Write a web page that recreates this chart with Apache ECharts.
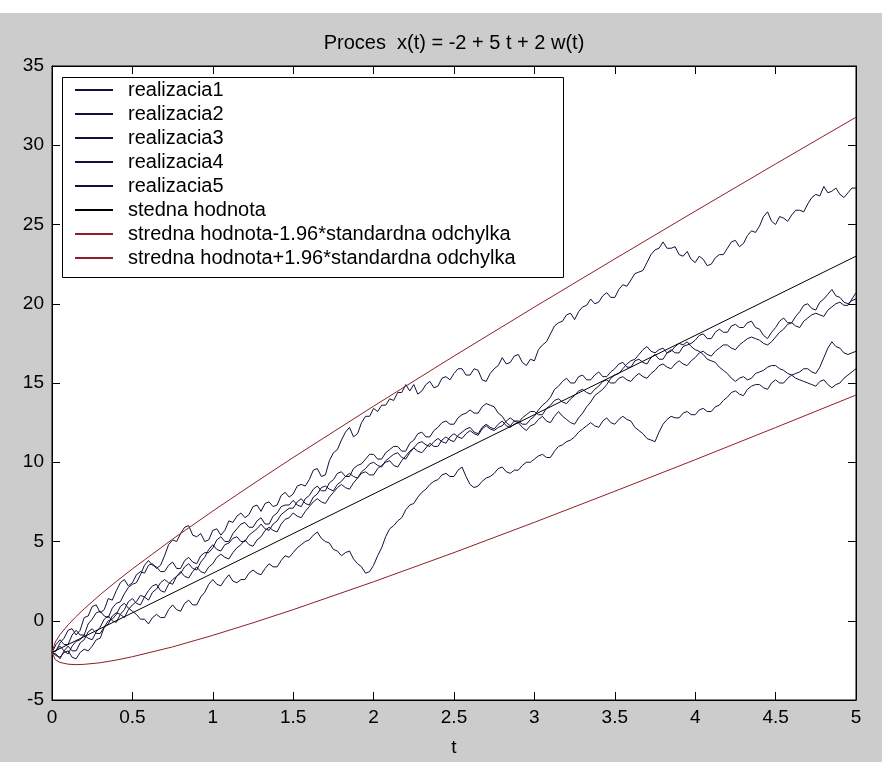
<!DOCTYPE html>
<html>
<head>
<meta charset="utf-8">
<title>Proces x(t)</title>
<script src="https://cdn.jsdelivr.net/npm/echarts@6/dist/echarts.min.js"></script>
<style>
  html, body { margin: 0; padding: 0; background: #fff; }
  #chart { width: 882px; height: 762px; }
</style>
</head>
<body>
<div id="chart"></div>
<script>
// casova os pre realizacie (krok 0.025)
var tWalk = [
  0,0.025,0.05,0.075,0.1,0.125,0.15,0.175,0.2,0.225,0.25,0.275,0.3,0.325,0.35,0.375,0.4,0.425,0.45,0.475,
  0.5,0.525,0.55,0.575,0.6,0.625,0.65,0.675,0.7,0.725,0.75,0.775,0.8,0.825,0.85,0.875,0.9,0.925,0.95,0.975,
  1,1.025,1.05,1.075,1.1,1.125,1.15,1.175,1.2,1.225,1.25,1.275,1.3,1.325,1.35,1.375,1.4,1.425,1.45,1.475,
  1.5,1.525,1.55,1.575,1.6,1.625,1.65,1.675,1.7,1.725,1.75,1.775,1.8,1.825,1.85,1.875,1.9,1.925,1.95,1.975,
  2,2.025,2.05,2.075,2.1,2.125,2.15,2.175,2.2,2.225,2.25,2.275,2.3,2.325,2.35,2.375,2.4,2.425,2.45,2.475,
  2.5,2.525,2.55,2.575,2.6,2.625,2.65,2.675,2.7,2.725,2.75,2.775,2.8,2.825,2.85,2.875,2.9,2.925,2.95,2.975,
  3,3.025,3.05,3.075,3.1,3.125,3.15,3.175,3.2,3.225,3.25,3.275,3.3,3.325,3.35,3.375,3.4,3.425,3.45,3.475,
  3.5,3.525,3.55,3.575,3.6,3.625,3.65,3.675,3.7,3.725,3.75,3.775,3.8,3.825,3.85,3.875,3.9,3.925,3.95,3.975,
  4,4.025,4.05,4.075,4.1,4.125,4.15,4.175,4.2,4.225,4.25,4.275,4.3,4.325,4.35,4.375,4.4,4.425,4.45,4.475,
  4.5,4.525,4.55,4.575,4.6,4.625,4.65,4.675,4.7,4.725,4.75,4.775,4.8,4.825,4.85,4.875,4.9,4.925,4.95,4.975,
  5];

var realizacia1 = [
  -2.0,-1.9,-1.4,-1.1,-0.6,-0.5,-0.9,-0.6,0.2,0.3,0.9,1.0,0.5,0.7,1.4,1.3,1.9,2.4,2.6,2.2,
  2.4,2.9,3.1,3.0,3.5,3.6,3.3,3.5,4.1,4.8,5.1,5.0,5.5,5.9,6.0,5.4,5.3,5.5,5.0,5.1,
  5.7,5.8,5.4,5.7,6.3,6.2,6.6,6.8,6.5,6.7,7.2,7.3,6.9,7.4,7.5,7.2,7.3,7.9,8.1,7.8,
  8.0,8.5,8.6,8.5,8.9,9.5,9.6,9.1,9.2,10.1,10.6,10.8,11.4,11.9,12.2,11.6,11.8,12.5,12.9,12.9,
  13.4,13.2,13.6,13.6,14.0,13.9,14.4,14.4,14.9,14.5,14.9,14.3,14.5,14.9,15.1,14.7,14.8,15.3,15.4,15.2,
  15.6,15.9,15.9,15.5,15.5,15.9,15.8,15.2,15.1,15.6,15.9,16.1,16.6,16.2,16.3,16.7,16.8,16.3,16.1,16.5,
  16.4,17.1,17.4,17.6,18.1,18.6,18.8,18.9,19.3,19.4,19.0,19.5,19.8,19.9,20.3,20.0,20.1,20.5,20.7,20.4,
  20.4,20.9,21.2,21.1,21.5,21.9,22.0,22.1,22.6,23.1,23.4,23.5,23.9,23.5,23.5,23.6,23.1,23.0,23.3,22.8,
  22.6,23.0,22.8,22.4,22.5,22.9,23.1,23.1,23.5,23.9,24.0,23.6,23.8,24.3,24.6,24.5,24.9,25.5,25.8,25.2,
  25.0,25.5,25.4,25.2,25.6,25.9,25.9,25.8,26.3,26.7,26.9,26.8,27.4,27.0,27.1,27.3,26.9,26.7,27.0,27.3,
  27.3];

var realizacia2 = [
  -2.0,-1.5,-1.2,-1.5,-1.5,-0.9,-0.6,-0.9,-0.9,-0.2,0.1,0.5,0.6,0.3,0.2,0.8,1.1,1.2,1.7,2.1,
  2.3,2.4,2.9,3.5,3.8,3.5,3.4,3.1,3.1,3.5,3.7,3.3,3.3,3.8,4.0,3.7,3.6,4.1,4.3,4.3,
  4.6,5.1,5.3,5.0,5.0,5.5,5.8,6.1,6.2,5.9,5.9,6.3,6.5,6.1,6.1,6.6,6.8,7.2,7.3,7.3,
  7.6,7.3,7.2,7.7,7.9,8.3,8.5,8.2,8.2,8.7,8.9,9.3,9.4,9.1,9.1,9.6,9.8,9.9,10.2,10.5,
  10.5,10.2,10.2,10.6,10.8,11.0,11.0,10.7,10.7,11.2,11.4,11.8,11.9,11.6,11.6,12.0,12.2,12.5,12.6,12.4,
  12.4,12.8,13.0,13.1,13.3,13.1,13.1,13.5,13.7,13.6,13.5,13.1,12.9,12.5,12.3,12.6,12.6,12.4,12.4,12.7,
  12.9,13.3,13.6,13.8,14.1,14.6,14.8,15.1,15.3,15.0,15.0,15.4,15.5,15.2,15.2,15.5,15.7,15.4,15.4,15.7,
  15.9,16.2,16.3,16.0,16.0,16.4,16.5,16.3,16.2,16.6,16.8,16.5,16.5,16.9,17.1,16.9,16.9,17.3,17.4,17.5,
  17.7,18.0,18.1,17.8,17.8,18.2,18.4,18.2,18.2,18.6,18.7,18.5,18.5,18.8,18.9,18.5,18.4,18.0,17.8,18.2,
  18.5,18.9,19.1,18.8,18.8,19.2,19.5,19.9,20.0,19.7,19.6,20.1,20.3,20.6,20.9,20.5,20.4,20.1,20.0,20.2,
  20.3];

var realizacia3 = [
  -2.0,-2.1,-2.4,-1.9,-1.6,-1.9,-1.9,-1.4,-1.2,-0.7,-0.5,-0.8,-0.8,-0.4,-0.2,0.3,0.5,0.4,0.2,0.7,
  1.0,1.2,1.6,1.5,1.3,1.8,2.0,2.4,2.6,2.4,2.3,2.8,3.0,3.4,3.6,3.3,3.2,3.7,4.0,4.5,
  4.8,4.5,4.4,4.8,4.9,5.2,5.3,5.0,5.0,5.4,5.6,5.8,6.1,5.8,5.7,6.1,6.3,6.7,6.9,7.1,
  7.1,7.5,7.7,7.4,7.3,7.8,8.0,8.4,8.5,8.3,8.2,8.6,8.8,9.1,9.3,9.1,9.0,9.4,9.6,9.9,
  10.0,9.8,9.7,10.1,10.3,10.5,10.6,10.3,10.2,10.6,10.9,11.2,11.3,11.1,11.0,11.3,11.5,11.3,11.2,11.6,
  11.8,11.6,11.5,11.8,12.0,11.8,11.7,12.1,12.3,12.1,12.0,12.2,12.3,12.6,12.8,12.6,12.5,12.8,13.0,13.2,
  13.2,13.0,13.0,13.4,13.6,13.9,14.0,13.8,13.7,14.0,14.2,14.5,14.6,14.4,14.3,14.6,14.8,15.1,15.2,15.0,
  15.0,15.3,15.4,15.2,15.1,15.4,15.6,15.4,15.3,15.6,15.8,16.1,16.2,16.0,15.9,16.2,16.4,16.2,16.1,16.4,
  16.6,16.9,17.0,16.8,16.7,17.0,17.2,17.4,17.4,17.2,17.1,17.4,17.6,17.8,17.9,17.8,17.7,17.5,17.4,17.6,
  17.9,18.2,18.4,18.7,18.8,18.6,18.5,18.9,19.1,19.3,19.4,19.3,19.2,19.6,19.8,20.0,20.1,19.9,19.9,20.3,
  20.7];

var realizacia4 = [
  -2.0,-1.9,-1.6,-1.9,-2.1,-1.6,-1.3,-1.2,-0.9,-1.1,-1.2,-0.7,-0.4,0.1,0.3,0.0,-0.1,0.4,0.7,1.2,
  1.4,1.1,1.0,1.5,1.9,2.2,2.3,1.9,1.8,2.3,2.6,2.8,3.1,2.8,2.7,3.1,3.4,3.1,3.0,3.4,
  3.6,4.0,4.2,4.0,3.9,4.3,4.6,4.8,5.1,4.8,4.7,5.1,5.3,5.7,5.9,5.7,5.6,6.1,6.4,6.5,
  6.8,6.6,6.5,6.9,7.2,7.5,7.7,7.5,7.4,7.8,8.1,8.4,8.6,8.4,8.3,8.7,9.0,9.3,9.4,9.2,
  9.2,9.6,9.8,10.0,10.1,9.8,9.7,10.1,10.4,10.7,10.9,10.7,10.6,10.9,11.2,11.0,11.0,11.4,11.6,11.4,
  11.3,11.7,11.9,12.1,12.2,11.9,11.8,12.2,12.4,12.2,12.1,12.4,12.6,12.3,12.2,12.4,12.5,12.2,12.0,12.3,
  12.4,12.7,12.9,12.6,12.5,12.9,13.2,12.9,12.7,12.5,12.4,12.8,13.1,13.5,13.8,14.2,14.4,14.6,14.9,15.3,
  15.5,15.6,15.9,16.2,16.4,16.5,16.8,17.1,17.3,17.0,16.9,17.1,17.2,16.9,17.0,17.3,17.5,17.4,17.6,17.3,
  17.1,17.0,16.8,16.5,16.4,16.3,16.0,15.8,15.6,15.3,15.1,15.3,15.4,15.2,15.3,15.6,15.7,15.8,16.0,16.1,
  16.1,15.9,15.8,15.6,15.5,15.6,15.7,15.9,15.9,15.7,15.6,16.0,16.6,17.2,17.6,17.3,17.2,16.9,16.8,16.9,
  17.0];

var realizacia5 = [
  -2.0,-2.2,-2.3,-2.0,-1.9,-2.3,-2.4,-2.0,-1.8,-1.9,-1.6,-1.2,-1.1,-0.4,0.0,0.1,0.4,0.9,1.1,0.8,
  0.6,0.4,0.1,0.1,-0.2,0.2,0.4,0.2,0.2,0.7,1.0,0.7,0.6,1.1,1.3,1.0,1.0,1.5,1.8,2.3,
  2.6,2.3,2.2,2.6,2.9,2.5,2.4,2.6,2.6,3.0,3.2,3.0,2.9,3.3,3.6,3.4,3.4,3.8,4.1,4.0,
  4.3,4.6,4.8,5.0,5.1,5.4,5.6,5.2,5.0,4.9,4.5,4.4,4.1,4.3,4.4,3.9,3.6,3.4,3.0,3.1,
  3.5,4.1,4.6,5.3,5.8,6.0,6.3,6.5,7.0,7.3,7.4,7.8,8.1,8.3,8.6,8.8,8.9,9.2,9.3,9.1,
  9.1,9.5,9.7,9.1,8.6,8.4,8.5,8.8,9.0,9.1,9.3,9.6,9.7,9.4,9.3,9.5,9.5,9.8,10.0,10.0,
  10.2,10.4,10.5,10.3,10.3,10.7,11.0,11.1,11.3,11.4,11.6,11.9,12.1,12.3,12.5,12.3,12.2,12.6,12.8,12.5,
  12.4,12.7,12.9,12.7,12.6,12.2,12.0,11.8,11.5,11.4,11.3,11.9,12.4,12.7,12.9,12.8,12.8,13.1,13.2,13.0,
  13.0,13.3,13.4,13.2,13.2,13.5,13.6,13.9,14.1,14.4,14.5,14.3,14.2,14.6,14.8,14.9,14.9,14.7,14.6,15.0,
  15.2,15.0,15.0,15.3,15.5,15.3,15.2,15.1,15.0,14.9,14.8,15.1,15.2,14.9,14.7,14.9,15.0,15.3,15.5,15.7,
  15.9];

// stredna hodnota a pasmo +-1.96*sigma
var tMean = [0, 5];
var strednaHodnota = [-2, 23];
var tBand = [0,0.02,0.05,0.1,0.15,0.2,0.3,0.4,0.5,0.75,1,1.25,1.5,2,2.5,3,3.5,4,4.5,5];
var dolnaHranica = [-2,-2.45,-2.63,-2.74,-2.77,-2.75,-2.65,-2.48,-2.27,-1.65,-0.92,-0.13,0.7,2.46,4.3,6.21,8.17,10.16,12.19,14.24];
var hornaHranica = [-2,-1.35,-0.87,-0.26,0.27,0.75,1.65,2.48,3.27,5.15,6.92,8.63,10.3,13.54,16.7,19.79,22.83,25.84,28.82,31.77];

var xTicks = { min: 0, max: 5, interval: 0.5 };
var yTicks = { min: -5, max: 35, interval: 5 };

var FONT = 'Liberation Sans, Arial, Helvetica, sans-serif';

function pary(xs, ys) {
    var out = [];
    for (var i = 0; i < xs.length; i++) out.push([xs[i], ys[i]]);
    return out;
}

function ciara(name, xs, ys, color) {
    return {
        name: name,
        type: 'line',
        data: pary(xs, ys),
        showSymbol: false,
        symbol: 'none',
        lineStyle: { color: color, width: 1 },
        itemStyle: { color: color },
        emphasis: { disabled: true },
        z: 2
    };
}

var REAL = '#10103a', MEAN = '#000000', BAND = '#8e1f26';

// osi so zarazkami dovnutra (aj na hornej a pravej strane)
var os = function (typ, pos, labels) {
    var t = typ === 'x' ? xTicks : yTicks;
    return {
        type: 'value', position: pos, min: t.min, max: t.max, interval: t.interval,
        axisLine: { show: true, onZero: false, lineStyle: { color: '#000', width: 1 } },
        axisTick: { show: true, inside: true, length: 8, lineStyle: { color: '#000' } },
        axisLabel: { show: labels, color: '#000', fontSize: 19, fontFamily: FONT, margin: 8 },
        splitLine: { show: false }
    };
};

var x0 = os('x', 'bottom', true);
x0.name = 't';
x0.nameLocation = 'middle';
x0.nameGap = 38;
x0.nameTextStyle = { color: '#000', fontSize: 19, fontFamily: FONT };

var chart = echarts.init(document.getElementById('chart'));
chart.setOption({
    animation: false,
    backgroundColor: '#cccccc',
    grid: {
        show: true, left: 52, right: 26, top: 66, bottom: 59,
        backgroundColor: '#ffffff', borderColor: '#000', borderWidth: 1
    },
    xAxis: [x0, os('x', 'top', false)],
    yAxis: [os('y', 'left', true), os('y', 'right', false)],
    legend: {
        orient: 'vertical', left: 62, top: 77,
        padding: [3, 0, 0, 13],
        itemWidth: 38, itemHeight: 2, itemGap: 4,
        icon: 'rect',
        selectedMode: false,
        z: 200,
        textStyle: { color: '#000', fontSize: 20, lineHeight: 20, fontFamily: FONT, padding: [0, 0, 0, 10] },
        data: ['realizacia1', 'realizacia2', 'realizacia3', 'realizacia4', 'realizacia5',
               'stedna hodnota',
               'stredna hodnota-1.96*standardna odchylka',
               'stredna hodnota+1.96*standardna odchylka']
    },
    graphic: [
        { type: 'rect', shape: { x: 0, y: 0, width: 882, height: 13 }, style: { fill: '#fff' }, z: 1 },
        { type: 'text', x: 454, y: 43, z: 1,
          style: { text: 'Proces  x(t) = -2 + 5 t + 2 w(t)', fill: '#000', font: '20px ' + FONT,
                   textAlign: 'center', textVerticalAlign: 'middle' } },
        { type: 'rect', shape: { x: 62.5, y: 77.5, width: 501, height: 200 },
          style: { fill: '#fff', stroke: '#000', lineWidth: 1 }, z: 100 }
    ],
    series: [
        ciara('realizacia1', tWalk, realizacia1, REAL),
        ciara('realizacia2', tWalk, realizacia2, REAL),
        ciara('realizacia3', tWalk, realizacia3, REAL),
        ciara('realizacia4', tWalk, realizacia4, REAL),
        ciara('realizacia5', tWalk, realizacia5, REAL),
        ciara('stedna hodnota', tMean, strednaHodnota, MEAN),
        ciara('stredna hodnota-1.96*standardna odchylka', tBand, dolnaHranica, BAND),
        ciara('stredna hodnota+1.96*standardna odchylka', tBand, hornaHranica, BAND)
    ]
});
</script>
</body>
</html>
